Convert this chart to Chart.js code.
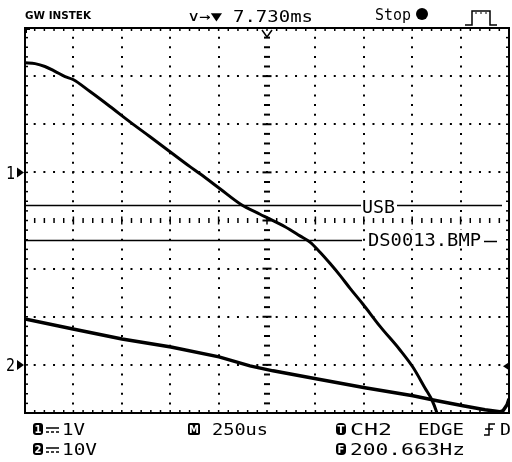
<!DOCTYPE html>
<html><head><meta charset="utf-8">
<script src="https://cdn.jsdelivr.net/npm/chart.js@4.4.1/dist/chart.umd.min.js"></script>
<style>html,body{margin:0;padding:0;background:#fff;overflow:hidden}canvas{display:block}</style>
</head><body>
<canvas id="scope" width="512" height="462"></canvas>
<script>
// ---------------- data ----------------
const ch1TimeUs = [0,52,103,155,207,248,336,439,542,646,749,852,904,1007,1110,1214,1255,1343,1420,1472,1524,1575,1627,1679,1746,1834,1937,2004,2066,2102,2128,2150];
const ch1Volts  = [2.28,2.26,2.20,2.10,1.99,1.93,1.68,1.37,1.05,0.74,0.43,0.12,-0.03,-0.34,-0.65,-0.87,-0.95,-1.13,-1.32,-1.45,-1.66,-1.89,-2.14,-2.41,-2.74,-3.20,-3.69,-4.05,-4.48,-4.73,-5.00,-5.30];
const ch2TimeUs = [0,248,501,754,1002,1162,1281,1503,1756,2004,2128,2262,2376,2453,2469,2490,2500];
const ch2Volts  = [9.54,7.47,5.39,3.73,1.66,-0.21,-1.24,-2.90,-4.77,-6.43,-7.47,-8.51,-9.34,-9.75,-9.54,-8.30,-7.05];
const timePerDivUs = 250;
const divisionsX = 10;
const divisionsY = 8;
const ch1VoltsPerDiv = 1;
const ch2VoltsPerDiv = 10;
const ch1GroundDiv = 1;
const ch2GroundDiv = -3;
const triggerLevelV = -0.3;
const overlayLabels = ['USB', 'DS0013.BMP'];
const overlayLevelsDiv = [0.32, -0.40];
const headerTexts = ['GW INSTEK', '\u2228\u2192\u25BC', '7.730ms', 'Stop'];
const footerRow1 = ['1V', '250us', 'CH2', 'EDGE', 'D'];
const footerRow2 = ['10V', '200.663Hz'];
const channelMarks = ['1', '2'];

// ---------------- helpers ----------------
const MONO = '"DejaVu Sans Mono", "Liberation Mono", monospace';
function fitText(ctx, s, x, y, size, width, opts) {
  opts = opts || {};
  ctx.save();
  ctx.font = (opts.bold ? 'bold ' : '') + size + 'px ' + (opts.family || MONO);
  const w = ctx.measureText(s).width;
  ctx.translate(x, y);
  if (width) ctx.scale(width / w, 1);
  ctx.textAlign = 'left';
  ctx.textBaseline = 'alphabetic';
  ctx.fillStyle = opts.color || '#000';
  ctx.fillText(s, 0, 0);
  ctx.restore();
}
function seg(ctx, x1, y1, x2, y2) { ctx.beginPath(); ctx.moveTo(x1, y1); ctx.lineTo(x2, y2); ctx.stroke(); }
function badge(ctx, ch, x, y, w, h, r) {
  ctx.save();
  ctx.fillStyle = '#000';
  ctx.beginPath(); ctx.roundRect(x, y, w, h, r); ctx.fill();
  ctx.font = 'bold ' + (h - 2) + 'px "DejaVu Sans", sans-serif';
  ctx.fillStyle = '#fff'; ctx.textAlign = 'center'; ctx.textBaseline = 'middle';
  ctx.fillText(ch, x + w / 2, y + h / 2 + 1);
  ctx.restore();
}
function dcSymbol(ctx, x, y) {
  ctx.save(); ctx.strokeStyle = '#000'; ctx.lineWidth = 1.5;
  seg(ctx, x, y, x + 13, y);
  for (let k = 0; k < 3; k++) seg(ctx, x + k * 5, y + 4, x + k * 5 + 3, y + 4);
  ctx.restore();
}

// ---------------- scope furniture plugin ----------------
const scopePlugin = {
  id: 'scope',
  beforeDatasetsDraw(chart) {
    const ctx = chart.ctx, a = chart.chartArea;
    const xs = chart.scales.x, yd = chart.scales.yd;
    ctx.save();
    ctx.strokeStyle = '#000';
    ctx.lineWidth = 2;
    ctx.strokeRect(a.left, a.top, a.right - a.left, a.bottom - a.top);
    const cy = yd.getPixelForValue(0);
    const cx = xs.getPixelForValue(timePerDivUs * divisionsX / 2);
    for (let i = 0; i <= divisionsX * 5; i++) {
      const px = xs.getPixelForValue(i * timePerDivUs / 5);
      ctx.lineWidth = 1.5;
      seg(ctx, px, a.top, px, a.top + 3);
      seg(ctx, px, a.bottom - 3, px, a.bottom);
      const len = (i % 5 === 0) ? 4 : 2.5;
      seg(ctx, px, cy - len, px, cy + len);
    }
    for (let j = 0; j <= divisionsY * 5; j++) {
      const py = yd.getPixelForValue(-divisionsY / 2 + j / 5);
      ctx.lineWidth = 1.5;
      seg(ctx, a.left, py, a.left + 3, py);
      seg(ctx, a.right - 3, py, a.right, py);
      ctx.lineWidth = 2;
      const len = (j % 5 === 0) ? 4.5 : 3;
      seg(ctx, cx - len, py, cx + len, py);
    }
    ctx.fillStyle = '#000';
    ctx.fillRect(a.left, a.top, 5, 2);
    ctx.fillRect(a.left, a.top, 2, 5);
    ctx.restore();
  },
  afterDatasetsDraw(chart) {
    const ctx = chart.ctx, a = chart.chartArea;
    const yd = chart.scales.yd;
    ctx.save();
    ctx.strokeStyle = '#000';
    ctx.lineWidth = 1.5;
    let py = Math.round(yd.getPixelForValue(overlayLevelsDiv[0])) + 0.5;
    seg(ctx, a.left, py, 361, py);
    seg(ctx, 397, py, 502, py);
    ctx.fillStyle = '#fff'; ctx.fillRect(362, py - 7, 34, 15);
    fitText(ctx, overlayLabels[0], 362, py + 7, 17, 33);
    py = Math.round(yd.getPixelForValue(overlayLevelsDiv[1])) + 0.5;
    seg(ctx, a.left, py, 362, py);
    ctx.fillStyle = '#fff'; ctx.fillRect(366, py - 11, 117, 16);
    fitText(ctx, overlayLabels[1], 368, py + 5, 17, 113);
    seg(ctx, 484, py + 1, 497, py + 1);
    ctx.restore();
  },
  afterDraw(chart) {
    const ctx = chart.ctx, a = chart.chartArea;
    const xs = chart.scales.x, y1 = chart.scales.y1, y2 = chart.scales.y2;
    ctx.save();
    ctx.fillStyle = '#000'; ctx.strokeStyle = '#000';
    [[channelMarks[0], y1.getPixelForValue(0)], [channelMarks[1], y2.getPixelForValue(0)]].forEach(([m, py]) => {
      fitText(ctx, m, 6, py + 6.5, 17, 9);
      ctx.beginPath(); ctx.moveTo(17, py - 5); ctx.lineTo(17, py + 5); ctx.lineTo(24, py); ctx.closePath(); ctx.fill();
    });
    const ty = y2.getPixelForValue(triggerLevelV);
    ctx.beginPath(); ctx.moveTo(509, ty - 4); ctx.lineTo(509, ty + 4); ctx.lineTo(503, ty); ctx.closePath(); ctx.fill();
    const tx = xs.getPixelForValue(timePerDivUs * divisionsX / 2);
    ctx.lineWidth = 1.5;
    ctx.beginPath(); ctx.moveTo(tx - 5, a.top + 2); ctx.lineTo(tx, a.top + 9); ctx.lineTo(tx + 5, a.top + 2); ctx.stroke();
    fitText(ctx, headerTexts[0], 25, 19, 10, 66, {bold: true, family: '"DejaVu Sans", sans-serif'});
    fitText(ctx, headerTexts[1], 188, 21, 14, 34);
    fitText(ctx, headerTexts[2], 233, 22, 16, 80);
    fitText(ctx, headerTexts[3], 375, 20, 16, 36);
    ctx.beginPath(); ctx.arc(422, 14, 6, 0, Math.PI * 2); ctx.fill();
    ctx.lineWidth = 1.5;
    ctx.beginPath();
    ctx.moveTo(465, 25); ctx.lineTo(472, 25); ctx.lineTo(472, 11); ctx.lineTo(490, 11); ctx.lineTo(490, 25); ctx.lineTo(497, 25);
    ctx.stroke();
    ctx.lineWidth = 1;
    for (let k = 0; k < 3; k++) { seg(ctx, 475 + k * 5, 13, 477 + k * 5, 13); }
    badge(ctx, '1', 33, 423, 10, 12, 3);
    dcSymbol(ctx, 46, 428);
    fitText(ctx, footerRow1[0], 62, 435, 16, 23);
    badge(ctx, 'M', 188, 423, 12, 12, 2);
    fitText(ctx, footerRow1[1], 212, 435, 16, 56);
    badge(ctx, 'T', 336, 423, 10, 12, 4);
    fitText(ctx, footerRow1[2], 350, 435, 16, 42);
    fitText(ctx, footerRow1[3], 418, 435, 16, 46);
    ctx.lineWidth = 1.5;
    ctx.beginPath(); ctx.moveTo(484, 435); ctx.lineTo(489, 435); ctx.lineTo(489, 424); ctx.lineTo(495, 424); ctx.stroke();
    seg(ctx, 485, 429, 493, 429);
    fitText(ctx, footerRow1[4], 500, 435, 16, 11);
    badge(ctx, '2', 33, 443, 10, 12, 3);
    dcSymbol(ctx, 46, 448);
    fitText(ctx, footerRow2[0], 62, 455, 16, 35);
    badge(ctx, 'F', 336, 443, 10, 12, 4);
    fitText(ctx, footerRow2[1], 350, 455, 16, 115);
    ctx.restore();
  }
};

// ---------------- chart ----------------
const tickVal = (c) => (c.tick ? c.tick.value : null);
new Chart(document.getElementById('scope'), {
  type: 'line',
  data: {
    datasets: [
      { label: 'CH1', data: ch1TimeUs.map((t, i) => ({x: t, y: ch1Volts[i]})), yAxisID: 'y1',
        borderColor: '#000', borderWidth: 3, pointRadius: 0, cubicInterpolationMode: 'monotone', fill: false },
      { label: 'CH2', data: ch2TimeUs.map((t, i) => ({x: t, y: ch2Volts[i]})), yAxisID: 'y2',
        borderColor: '#000', borderWidth: 3.5, pointRadius: 0, tension: 0, fill: false }
    ]
  },
  options: {
    responsive: false,
    animation: false,
    devicePixelRatio: 1,
    layout: { padding: { left: 25, top: 28, right: 3, bottom: 49 } },
    plugins: { legend: { display: false }, tooltip: { enabled: false } },
    scales: {
      x: {
        type: 'linear', min: 0, max: timePerDivUs * divisionsX,
        ticks: { display: false, stepSize: timePerDivUs },
        grid: { drawTicks: false, lineWidth: 2,
          color: (c) => { const v = tickVal(c); return (v === 0 || v === timePerDivUs * divisionsX || v === timePerDivUs * divisionsX / 2) ? 'rgba(0,0,0,0)' : '#000'; } },
        border: { display: false, dash: [2, 7.625], dashOffset: 1 }
      },
      yd: {
        type: 'linear', position: 'left', min: -divisionsY / 2, max: divisionsY / 2,
        ticks: { display: false, stepSize: 1 },
        grid: { drawTicks: false, lineWidth: 2,
          color: (c) => { const v = tickVal(c); return (v === 0 || Math.abs(v) === divisionsY / 2) ? 'rgba(0,0,0,0)' : '#000'; } },
        border: { display: false, dash: [2, 7.68], dashOffset: 1 }
      },
      y1: { display: false, min: (-divisionsY / 2 - ch1GroundDiv) * ch1VoltsPerDiv, max: (divisionsY / 2 - ch1GroundDiv) * ch1VoltsPerDiv },
      y2: { display: false, min: (-divisionsY / 2 - ch2GroundDiv) * ch2VoltsPerDiv, max: (divisionsY / 2 - ch2GroundDiv) * ch2VoltsPerDiv }
    }
  },
  plugins: [scopePlugin]
});
</script>
</body></html>
